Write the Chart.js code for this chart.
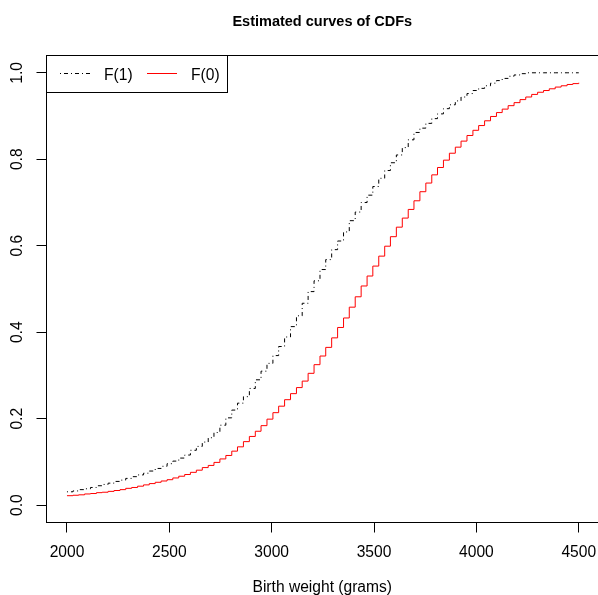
<!DOCTYPE html>
<html>
<head>
<meta charset="utf-8">
<script src="https://cdn.jsdelivr.net/npm/chart.js@4/dist/chart.umd.min.js"></script>
<style>
  html, body { margin: 0; padding: 0; background: #fff; }
  #wrap { width: 598px; height: 595px; }
</style>
</head>
<body>
<div id="wrap"><canvas id="cdfChart" width="598" height="595"></canvas></div>
<script>
// evaluation grid (grams)
const weights = [
  2000, 2029, 2057, 2086, 2115, 2144, 2172, 2201, 2230, 2259,
  2287, 2316, 2345, 2374, 2402, 2431, 2460, 2489, 2517, 2546,
  2575, 2603, 2632, 2661, 2690, 2718, 2747, 2776, 2805, 2833,
  2862, 2891, 2920, 2948, 2977, 3006, 3034, 3063, 3092, 3121,
  3149, 3178, 3207, 3236, 3264, 3293, 3322, 3351, 3379, 3408,
  3437, 3466, 3494, 3523, 3552, 3580, 3609, 3638, 3667, 3695,
  3724, 3753, 3782, 3810, 3839, 3868, 3897, 3925, 3954, 3983,
  4011, 4040, 4069, 4098, 4126, 4155, 4184, 4213, 4241, 4270,
  4299, 4328, 4356, 4385, 4414, 4443, 4471, 4500
];

// F(1)
const cdfOne = [
  0.031, 0.033, 0.036, 0.038, 0.041, 0.045, 0.048, 0.051, 0.055, 0.058,
  0.062, 0.066, 0.070, 0.074, 0.079, 0.085, 0.090, 0.096, 0.102, 0.109,
  0.116, 0.127, 0.136, 0.146, 0.156, 0.168, 0.185, 0.202, 0.220, 0.236,
  0.251, 0.270, 0.290, 0.310, 0.328, 0.346, 0.367, 0.389, 0.413, 0.438,
  0.467, 0.494, 0.519, 0.545, 0.568, 0.591, 0.611, 0.632, 0.658, 0.678,
  0.700, 0.717, 0.737, 0.756, 0.774, 0.792, 0.810, 0.827, 0.845, 0.862,
  0.872, 0.883, 0.894, 0.905, 0.917, 0.926, 0.935, 0.944, 0.952, 0.959,
  0.964, 0.970, 0.976, 0.982, 0.987, 0.992, 0.995, 0.998, 1.000, 1.000,
  1.000, 1.000, 1.000, 1.000, 1.000, 1.000, 1.000, 1.000
];

// F(0)
const cdfZero = [
  0.022, 0.023, 0.024, 0.026, 0.027, 0.029, 0.030, 0.032, 0.034, 0.036,
  0.039, 0.041, 0.044, 0.047, 0.050, 0.053, 0.056, 0.059, 0.063, 0.067,
  0.071, 0.076, 0.081, 0.087, 0.092, 0.099, 0.107, 0.115, 0.125, 0.135,
  0.147, 0.159, 0.171, 0.184, 0.199, 0.214, 0.229, 0.244, 0.258, 0.272,
  0.287, 0.305, 0.325, 0.345, 0.365, 0.387, 0.411, 0.433, 0.458, 0.482,
  0.507, 0.530, 0.553, 0.576, 0.599, 0.621, 0.643, 0.664, 0.684, 0.704,
  0.725, 0.745, 0.764, 0.781, 0.798, 0.814, 0.828, 0.842, 0.855, 0.867,
  0.878, 0.889, 0.899, 0.908, 0.916, 0.924, 0.931, 0.938, 0.944, 0.950,
  0.955, 0.959, 0.963, 0.967, 0.970, 0.973, 0.975, 0.977
];

const seriesLabels = ['F(1)', 'F(0)'];
const xTicks = [2000, 2500, 3000, 3500, 4000, 4500];
const xTickLabels = ['2000', '2500', '3000', '3500', '4000', '4500'];
const yTicks = [0, 0.2, 0.4, 0.6, 0.8, 1.0];
const yTickLabels = ['0.0', '0.2', '0.4', '0.6', '0.8', '1.0'];

const FONT = 'Liberation Sans, Arial, Helvetica, sans-serif';

// plot frame + legend drawn like base R
const framePlugin = {
  id: 'frame',
  afterDatasetsDraw(chart) {
    const { ctx, chartArea } = chart;
    ctx.save();
    ctx.strokeStyle = '#000';
    ctx.lineWidth = 1;
    ctx.strokeRect(chartArea.left, chartArea.top, 599 - chartArea.left, chartArea.bottom - chartArea.top);

    // legend box
    const lx = chartArea.left, ly = chartArea.top;
    ctx.fillStyle = '#fff';
    ctx.fillRect(lx, ly, 181, 37);
    ctx.strokeRect(lx, ly, 181, 37);

    const items = [
      { x1: 60, x2: 90, tx: 104 },
      { x1: 147, x2: 177, tx: 191 }
    ];
    ctx.font = '15.6px ' + FONT;
    ctx.textBaseline = 'alphabetic';
    chart.data.datasets.forEach((ds, i) => {
      const it = items[i];
      ctx.strokeStyle = ds.borderColor;
      ctx.setLineDash(ds.borderDash || []);
      ctx.beginPath();
      ctx.moveTo(it.x1, 73.5);
      ctx.lineTo(it.x2, 73.5);
      ctx.stroke();
      ctx.setLineDash([]);
      ctx.fillStyle = '#000';
      ctx.fillText(ds.label, it.tx, 80);
    });
    ctx.restore();
  }
};

const ctx = document.getElementById('cdfChart').getContext('2d');
new Chart(ctx, {
  type: 'line',
  data: {
    datasets: [
      {
        label: seriesLabels[0],
        data: weights.map((w, i) => ({ x: w, y: cdfOne[i] })),
        borderColor: '#000000',
        borderWidth: 1,
        borderDash: [1, 3, 4, 3],
        stepped: true,
        pointRadius: 0,
        fill: false
      },
      {
        label: seriesLabels[1],
        data: weights.map((w, i) => ({ x: w, y: cdfZero[i] })),
        borderColor: '#ff0000',
        borderWidth: 1,
        stepped: true,
        pointRadius: 0,
        fill: false
      }
    ]
  },
  options: {
    responsive: false,
    animation: false,
    layout: { padding: 0, autoPadding: false },
    plugins: {
      legend: { display: false },
      tooltip: { enabled: false },
      title: {
        display: true,
        text: 'Estimated curves of CDFs',
        color: '#000',
        fullSize: false,
        font: { family: FONT, size: 14.5, weight: 'bold', lineHeight: 1.2 },
        padding: { top: 13.3, bottom: 24.8 }
      }
    },
    scales: {
      x: {
        type: 'linear',
        min: 1900,
        max: 4594,
        border: { display: false },
        grid: { drawOnChartArea: false, tickLength: 10, tickColor: '#000', tickWidth: 1 },
        ticks: {
          color: '#000',
          padding: 11,
          maxRotation: 0,
          font: { family: FONT, size: 15.6 },
          callback: (v, i) => xTickLabels[i]
        },
        title: {
          display: true,
          text: 'Birth weight (grams)',
          color: '#000',
          font: { family: FONT, size: 15.6, lineHeight: 1.2 },
          padding: { top: 0, bottom: -1.8 }
        },
        afterBuildTicks: (scale) => { scale.ticks = xTicks.map(v => ({ value: v })); },
        afterFit: (scale) => {
          scale.height = 72.5;
          scale.paddingLeft = 0;
          scale.paddingRight = 0;
        }
      },
      y: {
        min: -0.04,
        max: 1.04,
        border: { display: false },
        grid: { drawOnChartArea: false, tickLength: 10, tickColor: '#000', tickWidth: 1 },
        ticks: {
          color: '#000',
          padding: 8.4,
          minRotation: 90,
          maxRotation: 90,
          crossAlign: 'center',
          font: { family: FONT, size: 15.6 },
          callback: (v, i) => yTickLabels[i]
        },
        afterBuildTicks: (scale) => { scale.ticks = yTicks.map(v => ({ value: v })); },
        afterFit: (scale) => {
          scale.width = 46.5;
          scale.paddingTop = 0;
          scale.paddingBottom = 0;
        }
      }
    }
  },
  plugins: [framePlugin]
});
</script>
</body>
</html>
